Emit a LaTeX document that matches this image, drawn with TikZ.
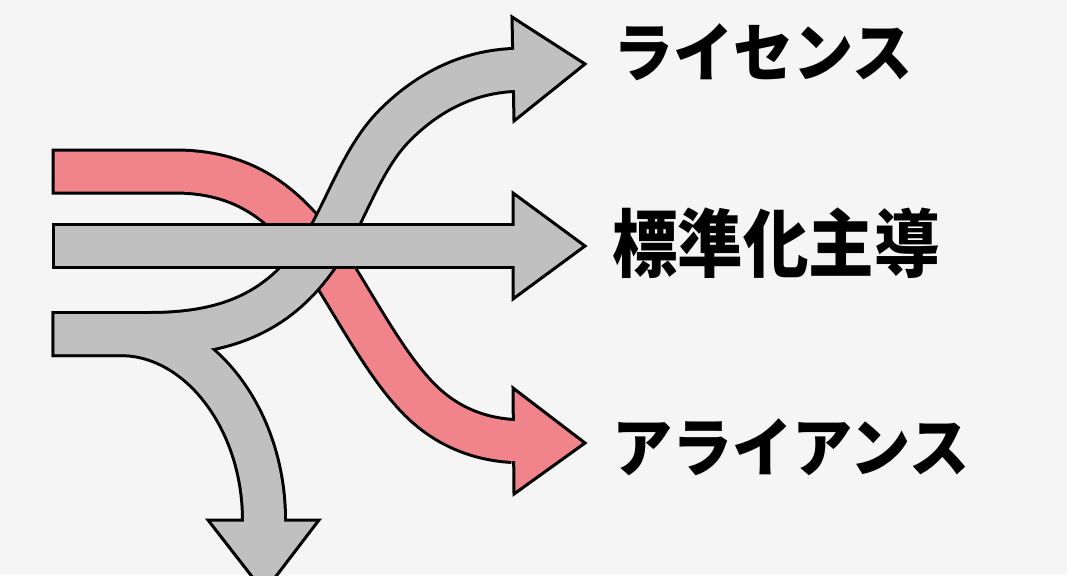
\documentclass[tikz,border=0pt]{standalone}
\usepackage{fontspec}
\newfontfamily\jp{Noto Sans CJK JP}
\definecolor{bg}{RGB}{245,245,245}
\definecolor{grayf}{RGB}{192,192,192}
\definecolor{redf}{RGB}{240,132,138}
\begin{document}
\begin{tikzpicture}[x=1pt,y=-1pt,
  outer/.style={draw=black, line width=46pt, line cap=butt},
  grayin/.style={draw=grayf, line width=40pt, line cap=butt},
  redin/.style={draw=redf, line width=40pt, line cap=butt},
  grayhead/.style={fill=grayf, draw=black, line width=3pt, line join=miter},
  redhead/.style={fill=redf, draw=black, line width=3pt, line join=miter},
  lbl/.style={font=\jp\bfseries\fontsize{64}{64}\selectfont, inner sep=0pt, anchor=west},
  lblk/.style={font=\jp\bfseries\fontsize{74}{74}\selectfont, inner sep=0pt, anchor=west}]
\useasboundingbox (0,0) rectangle (1067,575);
\fill[bg] (0,0) rectangle (1067,575);
\clip (0,0) rectangle (1067,575);
% named end points
\coordinate (rs) at (51.5,171.5);
\coordinate (re) at (513,441);
\coordinate (gs) at (51.5,334);
\coordinate (ue) at (513,70);
\coordinate (de) at (264,520);
\coordinate (hs) at (51.5,246);
\coordinate (he) at (513,246);
% red arrow (alliance)
\draw[outer] (rs) -- (175,171.5) .. controls (240,171.5) and (280,200) .. (315,246)
  .. controls (345,285.4) and (380,360) .. (420,400) .. controls (450,430) and (485,439.5) .. (re);
\draw[redhead] (513,388) -- (585,443) -- (514,494) -- cycle;
\draw[redin] (54.5,171.5) -- (175,171.5) .. controls (240,171.5) and (280,200) .. (315,246)
  .. controls (345,285.4) and (380,360) .. (420,400) .. controls (450,430) and (485,439.5) .. (re) -- (519,441.5);
% gray split arrow (license + down)
\draw[outer] (gs) -- (150,334) .. controls (230,334) and (280,310) .. (318,255)
  .. controls (345,216) and (360,160) .. (395,125) .. controls (430,90) and (470,72) .. (ue);
\draw[outer] (gs) -- (120,334) .. controls (200,334) and (264,420) .. (de);
\draw[grayhead] (512,17) -- (585,64) -- (514,121) -- cycle;
\draw[grayhead] (208,520) -- (264,592) -- (319,520) -- cycle;
\draw[grayin] (54.5,334) -- (150,334) .. controls (230,334) and (280,310) .. (318,255)
  .. controls (345,216) and (360,160) .. (395,125) .. controls (430,90) and (470,72) .. (ue) -- (519,69.7);
\draw[grayin] (54.5,334) -- (120,334) .. controls (200,334) and (264,420) .. (de) -- (264,526);
% horizontal arrow
\draw[outer] (hs) -- (he);
\draw[grayhead] (513,193) -- (585,246) -- (513,299) -- cycle;
\draw[grayin] (54.5,246) -- (519,246);
% labels
\node[lbl] (lic) at (613,52) {\scalebox{0.94}[1]{ライセンス}};
\node[lblk] (std) at (612,243) {\scalebox{0.885}[1]{標準化主導}};
\node[lbl] (all) at (612,447) {\scalebox{0.94}[1]{アライアンス}};
\end{tikzpicture}
\end{document}
